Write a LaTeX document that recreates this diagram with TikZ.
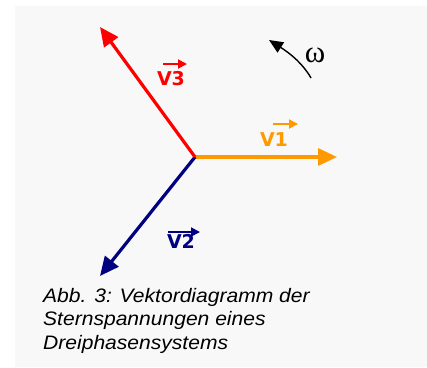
\documentclass[tikz,border=0pt]{standalone}
\usepackage{fontspec}
\usetikzlibrary{arrows.meta}
\newfontfamily\labfont{DejaVu Sans}[BoldFont={DejaVu Sans Bold}]
\newfontfamily\capfont{Liberation Sans}[FakeStretch=1.08]
\newfontfamily\omfont{Liberation Serif}
\definecolor{bggray}{HTML}{F8F8F8}
\definecolor{vorange}{HTML}{FF9900}
\definecolor{vred}{HTML}{FF0000}
\definecolor{vnavy}{HTML}{000080}
\tikzset{
  phasor/.style={line width=3.2pt, -{Triangle[length=19pt,width=17pt]}},
  vecmark/.style={line width=1.8pt, -{Triangle[length=9pt,width=9pt]}},
  vlabel/.style={inner sep=0pt, font=\labfont\bfseries\fontsize{19}{22}\selectfont},
  captext/.style={inner sep=0pt, anchor=base west, font=\capfont\itshape\fontsize{19.5}{23}\selectfont},
}
\begin{document}
\begin{tikzpicture}[x=1pt,y=-1pt]
\useasboundingbox (0,0) rectangle (427,367);
\fill[bggray] (15,6) rectangle (427,367);
\coordinate (O) at (195,157);
\coordinate (T1) at (337,157);
\coordinate (T2) at (100,276);
\coordinate (T3) at (100,27);
\draw[phasor, vorange] (O) -- (T1);
\draw[phasor, vnavy] (O) -- (T2);
\draw[phasor, vred] (O) -- (T3);
% labels
\node[vlabel, text=vorange] (L1) at (274,140) {V1};
\node[vlabel, text=vnavy] (L2) at (181,241) {V2};
\node[vlabel, text=vred] (L3) at (171,79) {V3};
\coordinate (a1s) at (273,124); \coordinate (a1e) at (298,124);
\coordinate (a2s) at (168,232); \coordinate (a2e) at (200,232);
\coordinate (a3s) at (163,64);  \coordinate (a3e) at (187,64);
\draw[vecmark, vorange] (a1s) -- (a1e);
\draw[vecmark, vnavy] (a2s) -- (a2e);
\draw[vecmark, vred] (a3s) -- (a3e);
% omega
\coordinate (ws) at (311,78);
\coordinate (we) at (269,40);
\draw[line width=1.4pt, -{Triangle[length=14pt,width=12pt]}] (ws) .. controls (303,64) and (291,54) .. (we);
\node[inner sep=0pt, font=\omfont\fontsize{31}{33}\selectfont] (om) at (315,55) {ω};
% caption
\node[captext] (c1) at (43,302) {Abb. 3: Vektordiagramm der};
\node[captext] (c2) at (43,325.5) {Sternspannungen eines};
\node[captext] (c3) at (43,349) {Dreiphasensystems};
\end{tikzpicture}
\end{document}
